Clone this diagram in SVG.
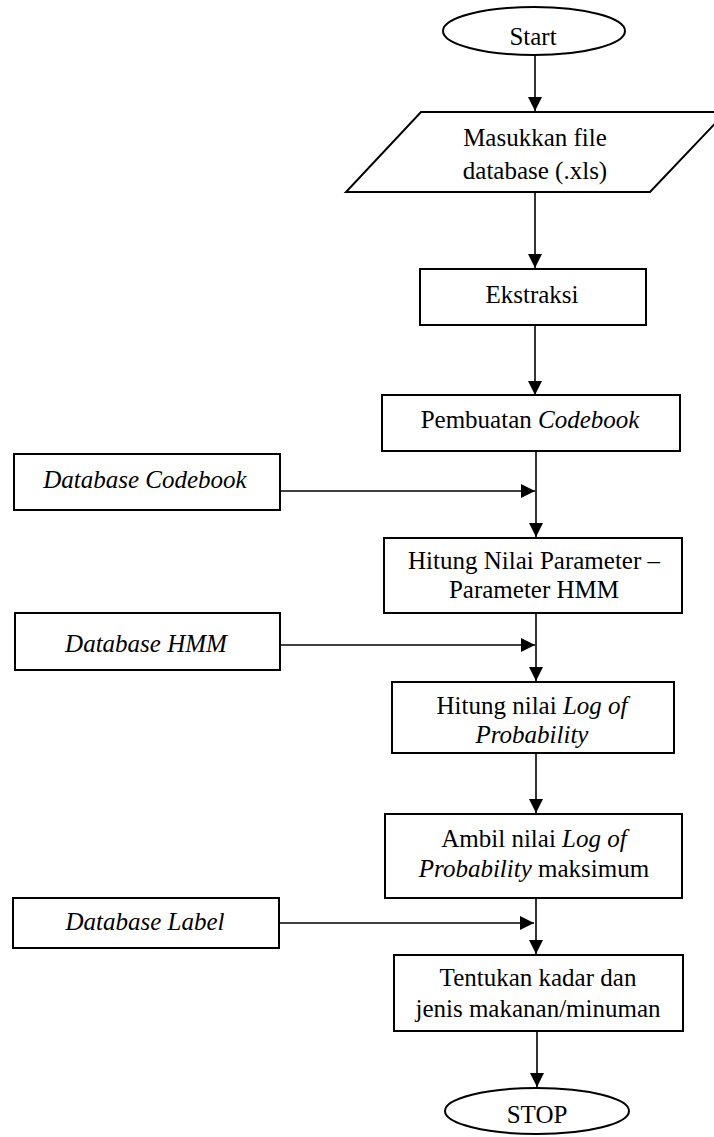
<svg xmlns="http://www.w3.org/2000/svg" width="714" height="1137" viewBox="0 0 714 1137">
<defs>
<style>
.s{fill:#fff;stroke:#000;stroke-width:2}
.t{font-family:"Liberation Serif","Times New Roman",serif;font-size:25px;fill:#000;text-anchor:middle}
.i{font-style:italic}
.c{stroke:#000;stroke-width:1.6;fill:none}
</style>
<marker id="a" viewBox="0 0 14 14" refX="14" refY="7" markerWidth="14" markerHeight="14" markerUnits="userSpaceOnUse" orient="auto">
<path d="M0,0 L14,7 L0,14 Z" fill="#000"/>
</marker>
</defs>
<rect width="714" height="1137" fill="#fff"/>
<g id="connectors">
<line class="c" x1="535" y1="55" x2="535" y2="111" marker-end="url(#a)"/>
<line class="c" x1="535" y1="192" x2="535" y2="268" marker-end="url(#a)"/>
<line class="c" x1="535" y1="325" x2="535" y2="395" marker-end="url(#a)"/>
<line class="c" x1="536" y1="451" x2="536" y2="537" marker-end="url(#a)"/>
<line class="c" x1="280" y1="491" x2="535" y2="491" marker-end="url(#a)"/>
<line class="c" x1="536" y1="613" x2="536" y2="681" marker-end="url(#a)"/>
<line class="c" x1="280" y1="645" x2="535" y2="645" marker-end="url(#a)"/>
<line class="c" x1="536" y1="753" x2="536" y2="813" marker-end="url(#a)"/>
<line class="c" x1="536" y1="898" x2="536" y2="954" marker-end="url(#a)"/>
<line class="c" x1="279" y1="923" x2="534" y2="923" marker-end="url(#a)"/>
<line class="c" x1="537" y1="1031" x2="537" y2="1087" marker-end="url(#a)"/>
</g>
<g id="start">
<ellipse class="s" cx="534" cy="31" rx="91" ry="24"/>
<text class="t" x="533" y="45">Start</text>
</g>
<g id="input">
<polygon class="s" points="421,112 726,112 650,192 346,192"/>
<text class="t" x="535" y="146">Masukkan file</text>
<text class="t" x="535" y="179">database (.xls)</text>
</g>
<g id="ekstraksi">
<rect class="s" x="420" y="269" width="226" height="56"/>
<text class="t" x="532" y="303">Ekstraksi</text>
</g>
<g id="codebook">
<rect class="s" x="382" y="395" width="298" height="56"/>
<text class="t" x="530" y="428">Pembuatan <tspan class="i">Codebook</tspan></text>
</g>
<g id="db-codebook">
<rect class="s" x="14" y="454" width="266" height="56"/>
<text class="t i" x="145" y="488">Database Codebook</text>
</g>
<g id="hmm-param">
<rect class="s" x="384" y="538" width="298" height="75"/>
<text class="t" x="534" y="569">Hitung Nilai Parameter –</text>
<text class="t" x="534" y="598">Parameter HMM</text>
</g>
<g id="db-hmm">
<rect class="s" x="15" y="613" width="265" height="57"/>
<text class="t i" x="146" y="652">Database HMM</text>
</g>
<g id="logprob">
<rect class="s" x="392" y="682" width="282" height="71"/>
<text class="t" x="532" y="714">Hitung nilai <tspan class="i">Log of</tspan></text>
<text class="t i" x="532" y="743">Probability</text>
</g>
<g id="maxprob">
<rect class="s" x="385" y="814" width="297" height="84"/>
<text class="t" x="534" y="847">Ambil nilai <tspan class="i">Log of</tspan></text>
<text class="t" x="534" y="877"><tspan class="i">Probability</tspan> maksimum</text>
</g>
<g id="db-label">
<rect class="s" x="13" y="898" width="266" height="50"/>
<text class="t i" x="145" y="930">Database Label</text>
</g>
<g id="tentukan">
<rect class="s" x="394" y="955" width="289" height="76"/>
<text class="t" x="538" y="986">Tentukan kadar dan</text>
<text class="t" x="538" y="1017">jenis makanan/minuman</text>
</g>
<g id="stop">
<ellipse class="s" cx="537" cy="1111" rx="92" ry="23"/>
<text class="t" x="537" y="1123">STOP</text>
</g>
</svg>
